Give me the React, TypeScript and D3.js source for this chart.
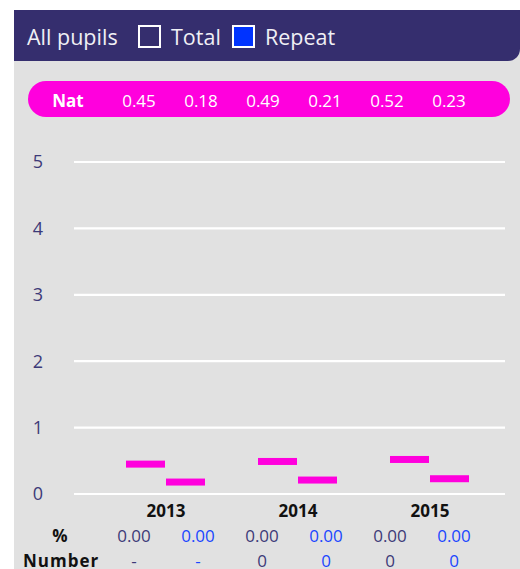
import React from "react";
import * as d3 from "d3";

const years = ["2013", "2014", "2015"];
const series = ["Total", "Repeat"];
const natTotal = [0.45, 0.49, 0.52];
const natRepeat = [0.18, 0.21, 0.23];
const pctTotal = ["0.00", "0.00", "0.00"];
const pctRepeat = ["0.00", "0.00", "0.00"];
const numTotal = ["-", "0", "0"];
const numRepeat = ["-", "0", "0"];
const yTicks = [0, 1, 2, 3, 4, 5];

const W = 520;
const H = 569;
const FONT = "'Open Sans', 'Noto Sans', sans-serif";
const NAVY = "#352e6e";
const PINK = "#ff00dd";
const TEXT_DARK = "#3d3a78";
const TEXT_BLUE = "#1a47ff";

export default function App() {
  const y = d3.scaleLinear().domain([0, 5]).range([494, 162]);
  const x0 = d3
    .scaleBand<string>()
    .domain(years)
    .range([100, 496])
    .paddingInner(0.394)
    .paddingOuter(0.197);
  const x1 = d3.scaleBand<string>().domain(series).range([0, x0.bandwidth()]);

  // flat columns (year x series) for the pill and the table below
  const cols = years.flatMap((yr) => series.map((s) => `${yr}-${s}`));
  const natVals = years.flatMap((_, i) => [natTotal[i], natRepeat[i]]);
  const pctVals = years.flatMap((_, i) => [pctTotal[i], pctRepeat[i]]);
  const numVals = years.flatMap((_, i) => [numTotal[i], numRepeat[i]]);
  const xNat = d3.scalePoint<string>().domain(cols).range([139, 449]);
  const xTab = d3.scalePoint<string>().domain(cols).range([134, 454]);

  const barH = 7;

  // header shape with rounded bottom-right corner
  const hx = 14, hy = 10, hw = W - 14, hh = 51, r = 12;
  const headerPath = `M${hx},${hy} H${hx + hw} V${hy + hh - r} A${r},${r} 0 0 1 ${hx + hw - r},${hy + hh} H${hx} Z`;

  return (
    <svg
      width={W}
      height={H}
      style={{ position: "absolute", left: 0, top: 0, fontFamily: FONT }}
    >
      <rect x={14} y={10} width={W - 14} height={H - 10} fill="#e1e1e1" />
      <path d={headerPath} fill={NAVY} />
      <text x={27} y={45} fontSize={21.5} fill="#f0f0f5">All pupils</text>
      <rect x={139} y={26} width={21} height={21} fill="none" stroke="#fff" strokeWidth={2} />
      <text x={171} y={45} fontSize={21.5} fill="#f0f0f5">Total</text>
      <rect x={233} y={26} width={21} height={21} fill="#0033ff" stroke="#fff" strokeWidth={2} />
      <text x={265} y={45} fontSize={21.5} fill="#f0f0f5">Repeat</text>

      {/* Nat pill */}
      <rect x={28} y={81} width={482} height={36} rx={18} fill={PINK} />
      <text x={68} y={107} fontSize={17} fontWeight={700} fill="#fff" textAnchor="middle">Nat</text>
      {cols.map((c, i) => (
        <text key={c} x={xNat(c)} y={107} fontSize={17} fill="#fff" textAnchor="middle">
          {natVals[i].toFixed(2)}
        </text>
      ))}

      {/* grid + y ticks */}
      {yTicks.map((t) => (
        <g key={t}>
          <line x1={74} x2={505} y1={y(t)} y2={y(t)} stroke="#fff" strokeWidth={2.2} />
          <text x={38} y={y(t)} dy="0.35em" fontSize={18} fill={TEXT_DARK} textAnchor="middle">
            {t}
          </text>
        </g>
      ))}

      {/* nat markers */}
      {years.map((yr, i) => (
        <g key={yr} transform={`translate(${x0(yr)},0)`}>
          {series.map((s) => {
            const v = s === "Total" ? natTotal[i] : natRepeat[i];
            return (
              <rect
                key={s}
                x={x1(s)}
                y={y(v) - barH / 2}
                width={x1.bandwidth() - 1}
                height={barH}
                fill={PINK}
              />
            );
          })}
          <text
            x={x0.bandwidth() / 2}
            y={517}
            fontSize={17}
            fontWeight={700}
            fill="#111"
            textAnchor="middle"
          >
            {yr}
          </text>
        </g>
      ))}

      {/* table */}
      <text x={60} y={542} fontSize={17} fontWeight={700} fill="#111" textAnchor="middle">%</text>
      <text x={23} y={567} fontSize={17} fontWeight={700} fill="#111" letterSpacing={1}>Number</text>
      {cols.map((c, i) => (
        <g key={c}>
          <text x={xTab(c)} y={542} fontSize={17} fill={i % 2 ? TEXT_BLUE : TEXT_DARK} textAnchor="middle">
            {pctVals[i]}
          </text>
          <text x={xTab(c)} y={567} fontSize={17} fill={i % 2 ? TEXT_BLUE : TEXT_DARK} textAnchor="middle">
            {numVals[i]}
          </text>
        </g>
      ))}
    </svg>
  );
}
